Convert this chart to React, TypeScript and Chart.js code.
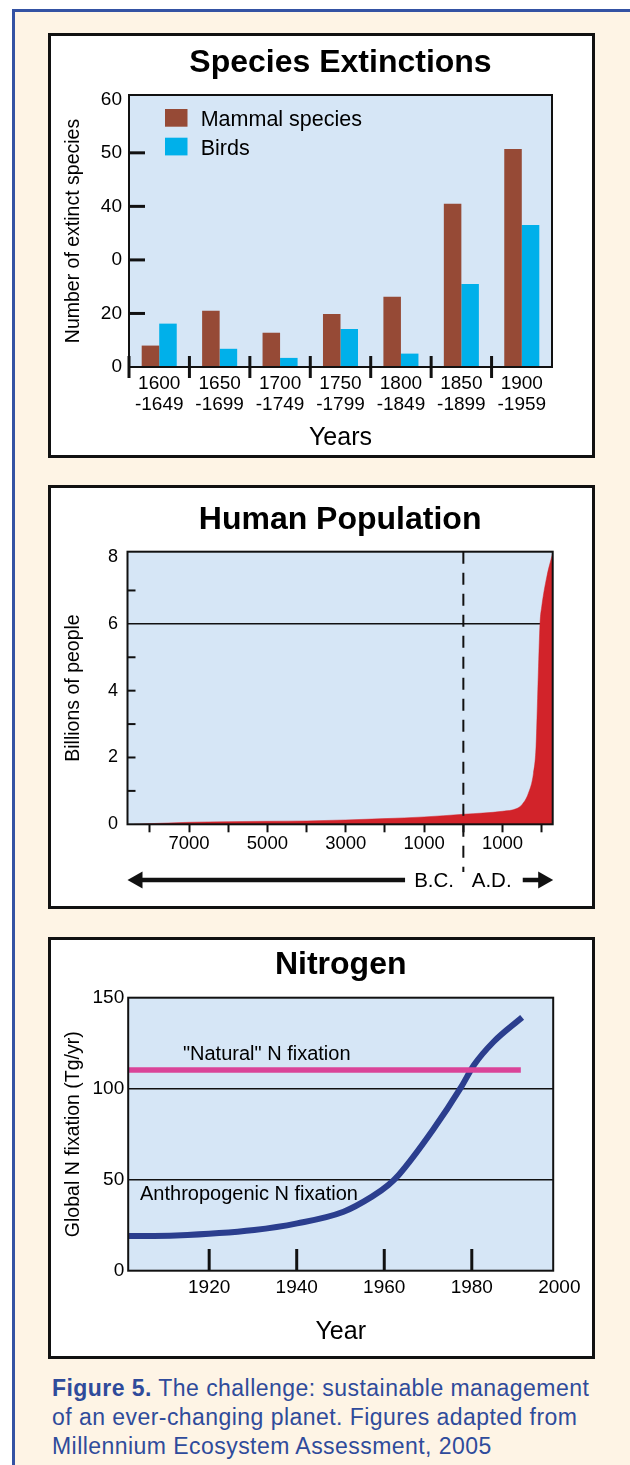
import React, { useEffect, useRef } from 'react';
import { Chart, registerables } from 'chart.js';

Chart.register(...registerables);

const FONT = '"Liberation Sans", Arial, Helvetica, sans-serif';
const PLOT_BG = '#D6E6F6';
const CREAM = '#FEF4E5';
const FRAME_BLUE = '#3452A3';
const INK = '#000';

// ---------- Species Extinctions ----------
const EXT_PERIODS = [
  ['1600', '-1649'],
  ['1650', '-1699'],
  ['1700', '-1749'],
  ['1750', '-1799'],
  ['1800', '-1849'],
  ['1850', '-1899'],
  ['1900', '-1959'],
];
const MAMMAL_EXTINCT = [14.0, 20.5, 16.4, 19.9, 23.1, 40.5, 50.7];
const BIRD_EXTINCT = [18.1, 13.4, 11.7, 17.1, 12.5, 25.5, 36.5];
const EXT_Y_MIN = 10;
const EXT_Y_MAX = 60.8;
const EXT_Y_TICKS = [10, 20, 30, 40, 50, 60];
const EXT_Y_TICK_LABELS = ['0', '20', '0', '40', '50', '60'];
const EXT_Y_MARKS = [20, 30, 40, 50];

// ---------- Human Population ----------
const POP_YEARS = [-8400, -7000, -6000, -5000, -4000, -3000, -2000, -1000, 0, 1000, 1360, 1490, 1660, 1790, 1855, 1888, 1913, 1957, 2000, 2130, 2280];
const POP_BILLIONS = [0, 0.06, 0.08, 0.09, 0.1, 0.13, 0.17, 0.22, 0.3, 0.39, 0.47, 0.58, 0.93, 1.53, 2.32, 3.52, 4.52, 6.02, 6.51, 7.41, 8.12];
const POP_X_TICKS = [-8000, -7000, -6000, -5000, -4000, -3000, -2000, -1000, 0, 1000, 2000];
const POP_X_LABELED = [-7000, -5000, -3000, -1000, 1000];
const POP_Y_TICKS = [0, 1, 2, 3, 4, 5, 6, 7, 8];
const POP_Y_LABELED = [0, 2, 4, 6, 8];
const POP_Y_MARKS = [1, 2, 3, 4, 5, 7];
const POP_Y_GRID = [6];
const POP_ERA_SPLIT = 0;

// ---------- Nitrogen ----------
const N_YEARS = [1901.5, 1912.4, 1930.3, 1940.1, 1950.7, 1957.2, 1960.9, 1963.3, 1971.1, 1977.6, 1980.5, 1985.0, 1991.5];
const N_ANTHRO = [19.0, 19.4, 22.4, 26.0, 32.4, 40.7, 47.0, 52.6, 77.3, 101.0, 113.0, 125.8, 139.2];
const N_NATURAL_YEARS = [1901.5, 1991.2];
const N_NATURAL = [110.3, 110.3];
const N_X_TICKS = [1920, 1940, 1960, 1980, 2000];
const N_X_MARKS = [1920, 1940, 1960, 1980];
const N_Y_TICKS = [0, 50, 100, 150];
const N_Y_GRID = [50, 100];
const N_LABEL_ANCHORS = [
  { x: 1914.0, y: 118.9 },
  { x: 1904.2, y: 42.0 },
];

const setTicks = (values: number[]) => (s: any) => {
  s.ticks = values.map((v) => ({ value: v }));
};

function frameAndTitle(title: string, baseline: number) {
  return {
    id: 'frameAndTitle',
    beforeDraw(chart: any) {
      const { ctx, chartArea: a } = chart;
      ctx.save();
      ctx.fillStyle = PLOT_BG;
      ctx.fillRect(a.left, a.top, a.right - a.left, a.bottom - a.top);
      ctx.restore();
    },
    afterDraw(chart: any) {
      const { ctx, chartArea: a } = chart;
      ctx.save();
      ctx.strokeStyle = '#111';
      ctx.lineWidth = 2;
      ctx.strokeRect(a.left, a.top, a.right - a.left, a.bottom - a.top);
      ctx.fillStyle = INK;
      ctx.font = `bold 32px ${FONT}`;
      ctx.textAlign = 'center';
      ctx.textBaseline = 'alphabetic';
      ctx.fillText(title, (a.left + a.right) / 2, baseline);
      ctx.restore();
    },
  };
}

const extDecor = {
  id: 'extDecor',
  afterDraw(chart: any) {
    const { ctx, chartArea: a, scales } = chart;
    const x = scales.x;
    const y = scales.y;
    ctx.save();
    ctx.strokeStyle = '#111';
    ctx.lineWidth = 3;
    const step = x.getPixelForValue(1) - x.getPixelForValue(0);
    for (let i = 0; i < EXT_PERIODS.length; i++) {
      const px = x.getPixelForValue(i) - step / 2;
      ctx.beginPath();
      ctx.moveTo(px, a.bottom - 11);
      ctx.lineTo(px, a.bottom + 11);
      ctx.stroke();
    }
    for (const v of EXT_Y_MARKS) {
      const py = y.getPixelForValue(v);
      ctx.beginPath();
      ctx.moveTo(a.left, py);
      ctx.lineTo(a.left + 16, py);
      ctx.stroke();
    }
    // legend
    ctx.font = `21.5px ${FONT}`;
    ctx.textAlign = 'left';
    ctx.textBaseline = 'middle';
    chart.data.datasets.forEach((ds: any, i: number) => {
      const bx = a.left + 36;
      const by = a.top + 14 + i * 28.7;
      ctx.fillStyle = ds.backgroundColor;
      ctx.fillRect(bx, by, 22.5, 17.7);
      ctx.fillStyle = INK;
      ctx.fillText(ds.label, bx + 35.7, by + 8.85 + 2.5);
    });
    ctx.restore();
  },
};

const popDecor = {
  id: 'popDecor',
  afterDraw(chart: any) {
    const { ctx, chartArea: a, scales } = chart;
    const x = scales.x;
    const y = scales.y;
    ctx.save();
    ctx.strokeStyle = '#111';
    ctx.lineWidth = 2;
    for (const v of POP_Y_MARKS) {
      const py = y.getPixelForValue(v);
      ctx.beginPath();
      ctx.moveTo(a.left, py);
      ctx.lineTo(a.left + 8, py);
      ctx.stroke();
    }
    const x0 = x.getPixelForValue(POP_ERA_SPLIT);
    ctx.setLineDash([12, 9]);
    ctx.beginPath();
    ctx.moveTo(x0, a.top);
    ctx.lineTo(x0, a.bottom + 47.7);
    ctx.stroke();
    ctx.setLineDash([]);
    const ay = a.bottom + 55.7;
    ctx.lineWidth = 4.5;
    ctx.beginPath();
    ctx.moveTo(a.left + 12, ay);
    ctx.lineTo(x0 - 58.3, ay);
    ctx.moveTo(x0 + 59.4, ay);
    ctx.lineTo(a.right - 12, ay);
    ctx.stroke();
    ctx.fillStyle = '#111';
    ctx.beginPath();
    ctx.moveTo(a.left, ay);
    ctx.lineTo(a.left + 15, ay - 8.5);
    ctx.lineTo(a.left + 15, ay + 8.5);
    ctx.closePath();
    ctx.fill();
    ctx.beginPath();
    ctx.moveTo(a.right + 0.5, ay);
    ctx.lineTo(a.right - 14.5, ay - 8.5);
    ctx.lineTo(a.right - 14.5, ay + 8.5);
    ctx.closePath();
    ctx.fill();
    ctx.fillStyle = INK;
    ctx.font = `20.5px ${FONT}`;
    ctx.textBaseline = 'alphabetic';
    ctx.textAlign = 'right';
    ctx.fillText('B.C.', x0 - 9.3, ay + 7.3);
    ctx.textAlign = 'left';
    ctx.fillText('A.D.', x0 + 8.4, ay + 7.3);
    ctx.restore();
  },
};

const nDecor = {
  id: 'nDecor',
  afterDatasetsDraw(chart: any) {
    const { ctx, chartArea: a, scales } = chart;
    const x = scales.x;
    const y = scales.y;
    ctx.save();
    ctx.strokeStyle = '#111';
    ctx.lineWidth = 3;
    for (const v of N_X_MARKS) {
      const px = x.getPixelForValue(v);
      ctx.beginPath();
      ctx.moveTo(px, a.bottom);
      ctx.lineTo(px, a.bottom - 21.7);
      ctx.stroke();
    }
    ctx.fillStyle = INK;
    ctx.font = `20px ${FONT}`;
    ctx.textAlign = 'left';
    ctx.textBaseline = 'middle';
    chart.data.datasets.forEach((ds: any, i: number) => {
      const p = N_LABEL_ANCHORS[i];
      ctx.fillText(ds.label, x.getPixelForValue(p.x), y.getPixelForValue(p.y));
    });
    ctx.restore();
  },
};

const baseOptions = {
  responsive: false,
  animation: false,
  devicePixelRatio: 1,
  events: [],
};
const noPlugins = { legend: { display: false }, tooltip: { enabled: false }, title: { display: false } };
const yTitle = (text: string) => ({
  display: true,
  text,
  color: INK,
  font: { size: 19.5, family: FONT, lineHeight: 1.2 },
  padding: { top: 11.3, bottom: 0 },
});

function buildExt(): any {
  return {
    type: 'bar',
    data: {
      labels: EXT_PERIODS,
      datasets: [
        { label: 'Mammal species', data: MAMMAL_EXTINCT, backgroundColor: '#964A36', base: EXT_Y_MIN, categoryPercentage: 0.58, barPercentage: 1 },
        { label: 'Birds', data: BIRD_EXTINCT, backgroundColor: '#00B0EA', base: EXT_Y_MIN, categoryPercentage: 0.58, barPercentage: 1 },
      ],
    },
    options: {
      ...baseOptions,
      layout: { padding: { top: 59, right: 40, left: 0, bottom: 0 } },
      plugins: noPlugins,
      scales: {
        x: {
          afterFit: (s: any) => { s.height = 88; },
          grid: { display: false, drawTicks: false },
          border: { display: false },
          ticks: { color: INK, font: { size: 19, family: FONT, lineHeight: 1.08 }, padding: 6.75, autoSkip: false, maxRotation: 0 },
          title: { display: true, text: 'Years', color: INK, font: { size: 25, family: FONT, lineHeight: 1.2 }, padding: { top: 0, bottom: 2.3 } },
        },
        y: {
          min: EXT_Y_MIN,
          max: EXT_Y_MAX,
          afterBuildTicks: setTicks(EXT_Y_TICKS),
          afterFit: (s: any) => { s.width = 78; },
          grid: { display: false, drawTicks: false },
          border: { display: false },
          ticks: {
            color: INK,
            font: { size: 19, family: FONT },
            padding: 7,
            callback: (v: number) => EXT_Y_TICK_LABELS[EXT_Y_TICKS.indexOf(v)] ?? '',
          },
          title: yTitle('Number of extinct species'),
        },
      },
    },
    plugins: [frameAndTitle('Species Extinctions', 35.5), extDecor],
  };
}

function buildPop(): any {
  return {
    type: 'line',
    data: {
      datasets: [
        {
          label: 'World population',
          data: POP_YEARS.map((yr, i) => ({ x: yr, y: POP_BILLIONS[i] })),
          fill: 'origin',
          backgroundColor: '#D2232A',
          borderColor: '#D2232A',
          borderWidth: 0.5,
          pointRadius: 0,
          cubicInterpolationMode: 'monotone',
        },
      ],
    },
    options: {
      ...baseOptions,
      layout: { padding: { top: 63.7, right: 39.3, left: 0, bottom: 0 } },
      plugins: noPlugins,
      scales: {
        x: {
          type: 'linear',
          min: -8570,
          max: 2280,
          afterBuildTicks: setTicks(POP_X_TICKS),
          afterFit: (s: any) => { s.height = 81.7; },
          grid: { display: true, drawOnChartArea: false, drawTicks: true, tickLength: 8, tickWidth: 2, tickColor: '#111' },
          border: { display: false },
          ticks: {
            color: INK,
            font: { size: 18.5, family: FONT },
            padding: 0.5,
            autoSkip: false,
            maxRotation: 0,
            callback: (v: number) => (POP_X_LABELED.includes(v) ? String(Math.abs(v)) : ''),
          },
        },
        y: {
          min: 0,
          max: 8.16,
          z: 1,
          afterBuildTicks: setTicks(POP_Y_TICKS),
          afterFit: (s: any) => { s.width = 76.5; },
          grid: {
            display: true,
            drawOnChartArea: true,
            drawTicks: false,
            lineWidth: 1.5,
            color: (c: any) => (c.tick && POP_Y_GRID.includes(c.tick.value) ? '#111' : 'rgba(0,0,0,0)'),
          },
          border: { display: false },
          ticks: {
            color: INK,
            font: { size: 18, family: FONT },
            padding: 9.5,
            callback: (v: number) => (POP_Y_LABELED.includes(v) ? String(v) : ''),
          },
          title: yTitle('Billions of people'),
        },
      },
    },
    plugins: [frameAndTitle('Human Population', 40.7), popDecor],
  };
}

function buildN(): any {
  return {
    type: 'line',
    data: {
      datasets: [
        {
          label: '"Natural" N fixation',
          data: N_NATURAL_YEARS.map((yr, i) => ({ x: yr, y: N_NATURAL[i] })),
          borderColor: '#DA4499',
          borderWidth: 5.5,
          pointRadius: 0,
          borderCapStyle: 'butt',
          fill: false,
        },
        {
          label: 'Anthropogenic N fixation',
          data: N_YEARS.map((yr, i) => ({ x: yr, y: N_ANTHRO[i] })),
          borderColor: '#2B3E8E',
          borderWidth: 6,
          pointRadius: 0,
          borderCapStyle: 'butt',
          cubicInterpolationMode: 'monotone',
          fill: false,
        },
      ],
    },
    options: {
      ...baseOptions,
      layout: { padding: { top: 57.7, right: 38.8, left: 0, bottom: 0 } },
      plugins: noPlugins,
      scales: {
        x: {
          type: 'linear',
          min: 1901.5,
          max: 1998.6,
          afterBuildTicks: setTicks(N_X_TICKS),
          afterFit: (s: any) => { s.height = 85.3; },
          grid: { display: false, drawTicks: false },
          border: { display: false },
          ticks: { color: INK, font: { size: 19, family: FONT }, padding: 5.2, autoSkip: false, maxRotation: 0, callback: (v: number) => String(v) },
          title: { display: true, text: 'Year', color: INK, font: { size: 25, family: FONT, lineHeight: 1.2 }, padding: { top: 0, bottom: 9.3 } },
        },
        y: {
          min: 0,
          max: 150,
          afterBuildTicks: setTicks(N_Y_TICKS),
          afterFit: (s: any) => { s.width = 77.2; },
          grid: {
            display: true,
            drawOnChartArea: true,
            drawTicks: false,
            lineWidth: 1.5,
            color: (c: any) => (c.tick && N_Y_GRID.includes(c.tick.value) ? '#111' : 'rgba(0,0,0,0)'),
          },
          border: { display: false },
          ticks: { color: INK, font: { size: 19, family: FONT }, padding: 4, callback: (v: number) => String(v) },
          title: yTitle('Global N fixation (Tg/yr)'),
        },
      },
    },
    plugins: [frameAndTitle('Nitrogen', 34.3), nDecor],
  };
}

function ChartBox({ top, height, build }: { top: number; height: number; build: () => any }) {
  const ref = useRef<HTMLCanvasElement>(null);
  const w = 541;
  const h = height - 6;
  useEffect(() => {
    const chart = new Chart(ref.current as HTMLCanvasElement, build());
    return () => chart.destroy();
  }, []);
  return (
    <div
      style={{
        position: 'absolute',
        left: 48,
        top,
        width: 547,
        height,
        border: '3px solid #111',
        boxSizing: 'border-box',
        background: '#fff',
      }}
    >
      <canvas ref={ref} width={w} height={h} style={{ display: 'block', width: w, height: h }} />
    </div>
  );
}

export default function App() {
  Chart.defaults.font.family = FONT;
  return (
    <div style={{ position: 'absolute', left: 0, top: 0, width: 630, height: 1465, background: '#fff', overflow: 'hidden' }}>
      <div
        style={{
          position: 'absolute',
          left: 12,
          top: 9,
          right: 0,
          bottom: 0,
          background: CREAM,
          borderLeft: `3px solid ${FRAME_BLUE}`,
          borderTop: `3px solid ${FRAME_BLUE}`,
        }}
      />
      <ChartBox top={33} height={425} build={buildExt} />
      <ChartBox top={485} height={424} build={buildPop} />
      <ChartBox top={937} height={422} build={buildN} />
      <div
        style={{
          position: 'absolute',
          left: 52,
          top: 1373.5,
          color: '#2F4B9B',
          fontFamily: FONT,
          fontSize: 23,
          lineHeight: '29px',
          letterSpacing: '0.45px',
          whiteSpace: 'nowrap',
        }}
      >
        <b>Figure 5.</b> The challenge: sustainable management
        <br />
        of an ever-changing planet. Figures adapted from
        <br />
        Millennium Ecosystem Assessment, 2005
      </div>
    </div>
  );
}
